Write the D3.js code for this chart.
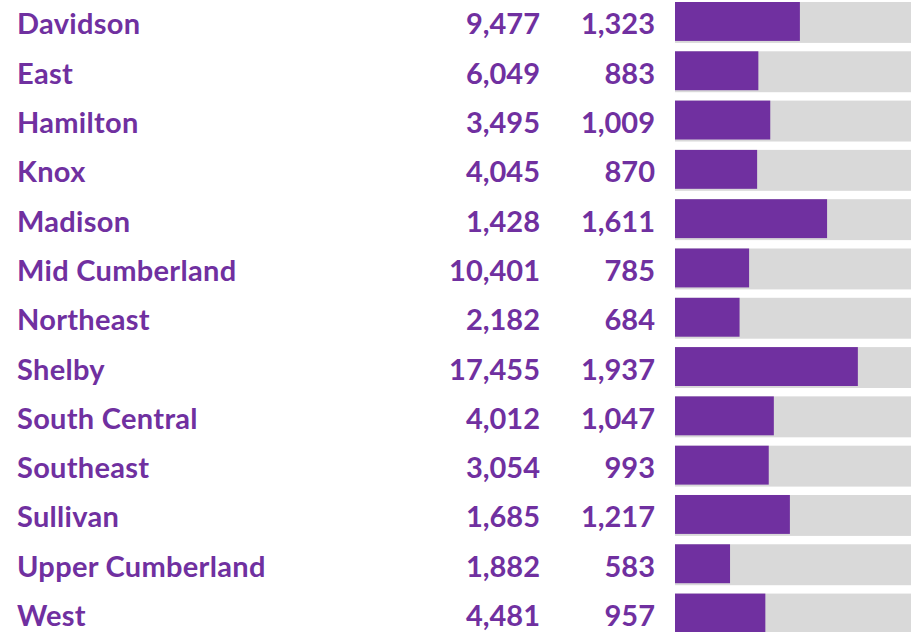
<!DOCTYPE html>
<html>
<head>
<meta charset="utf-8">
<script src="https://cdn.jsdelivr.net/npm/d3@7"></script>
<style>
  body { margin: 0; background: #fff; }
  text { font-family: Lato, "Open Sans", sans-serif; font-weight: bold; fill: #7030a0; }
</style>
</head>
<body>
<svg id="chart" width="921" height="632"></svg>
<script>
// table data
const regionNames = ["Davidson", "East", "Hamilton", "Knox", "Madison", "Mid Cumberland",
  "Northeast", "Shelby", "South Central", "Southeast", "Sullivan", "Upper Cumberland", "West"];
const totals = [9477, 6049, 3495, 4045, 1428, 10401, 2182, 17455, 4012, 3054, 1685, 1882, 4481];
const rates = [1323, 883, 1009, 870, 1611, 785, 684, 1937, 1047, 993, 1217, 583, 957];
const rateMax = 2500;

const rows = regionNames.map((name, i) => ({ name, total: totals[i], rate: rates[i] }));

const svg = d3.select("#chart");

const y = d3.scaleBand()
  .domain(regionNames)
  .range([2, 634.5])
  .paddingInner(0.17)
  .paddingOuter(0);

const x = d3.scaleLinear()
  .domain([0, rateMax])
  .range([675, 911]);

const fmt = d3.format(",");

const row = svg.selectAll("g.row")
  .data(rows)
  .enter()
  .append("g")
  .attr("class", "row")
  .attr("transform", d => `translate(0,${y(d.name)})`);

// grey background bar
row.append("rect")
  .attr("x", x(0))
  .attr("y", 0)
  .attr("width", x(rateMax) - x(0))
  .attr("height", y.bandwidth())
  .attr("fill", "#d9d9d9");

// purple value bar
row.append("rect")
  .attr("x", x(0))
  .attr("y", 0)
  .attr("width", d => x(d.rate) - x(0))
  .attr("height", y.bandwidth() - 2)
  .attr("fill", "#7030a0");

const baseline = y.bandwidth() / 2 + 12;

row.append("text")
  .attr("x", 17)
  .attr("y", baseline)
  .style("font-size", "29px")
  .style("letter-spacing", "0.3px")
  .text(d => d.name);

row.append("text")
  .attr("x", 540)
  .attr("y", baseline)
  .attr("text-anchor", "end")
  .style("font-size", "29px")
  .text(d => fmt(d.total));

row.append("text")
  .attr("x", 655)
  .attr("y", baseline)
  .attr("text-anchor", "end")
  .style("font-size", "29px")
  .text(d => fmt(d.rate));
</script>
</body>
</html>
